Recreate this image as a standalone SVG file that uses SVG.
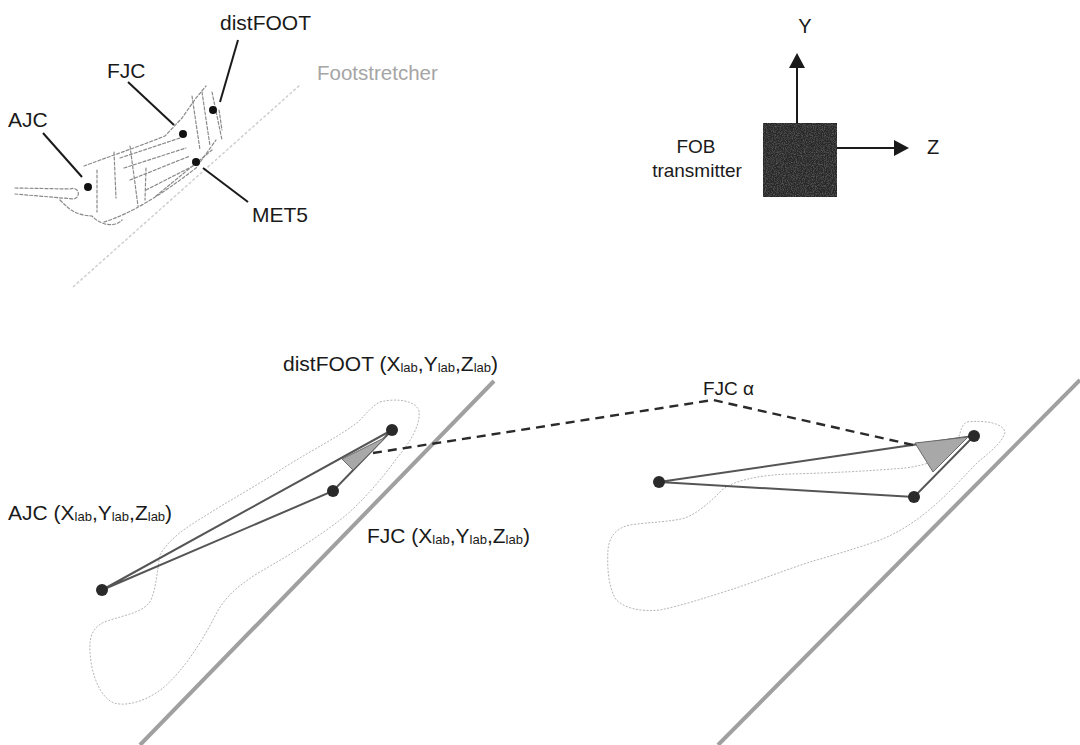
<svg xmlns="http://www.w3.org/2000/svg" width="1080" height="745" viewBox="0 0 1080 745">
  <defs>
    <style>
      .lbl { font-family: "Liberation Sans", Arial, sans-serif; fill: #1a1a1a; }
      .sub { font-size: 13px; }
      .sk { fill: none; stroke: #8a8a8a; stroke-width: 1.2; stroke-dasharray: 3 2; stroke-linecap: round; }
      .outline { fill: none; stroke: #b5b5b5; stroke-width: 1; stroke-dasharray: 2 1.5; }
      .leader { stroke: #1a1a1a; stroke-width: 2; }
      .seg { stroke: #555; stroke-width: 2; fill: none; stroke-linecap: round; }
      .stretcher { stroke: #a0a0a0; stroke-width: 4; }
      .dot { fill: #2a2a2a; }
      .pt { fill: #111; }
      .angle { fill: #a8a8a8; stroke: #6a6a6a; stroke-width: 1; }
      .axis { stroke: #1a1a1a; stroke-width: 2; }
    </style>
    <marker id="head" markerUnits="userSpaceOnUse" markerWidth="15" markerHeight="16" refX="0" refY="8" orient="auto">
      <path d="M0,0 L15,8 L0,16 z" fill="#1a1a1a"/>
    </marker>
    <filter id="grain" x="0" y="0" width="100%" height="100%">
      <feTurbulence type="fractalNoise" baseFrequency="0.9" numOctaves="2" seed="4" result="n"/>
      <feColorMatrix in="n" type="matrix" values="0 0 0 0 0.3  0 0 0 0 0.3  0 0 0 0 0.3  0 0 0 0.7 -0.3" result="g"/>
      <feComposite in="g" in2="SourceGraphic" operator="in" result="gi"/>
      <feMerge><feMergeNode in="SourceGraphic"/><feMergeNode in="gi"/></feMerge>
    </filter>
  </defs>

  <rect width="1080" height="745" fill="#ffffff"/>

  <!-- Sketch of the foot skeleton on the footstretcher -->
  <g id="foot-sketch">
    <line x1="73" y1="287" x2="300" y2="85" stroke="#cfcfcf" stroke-width="1.5" stroke-dasharray="3 2"/>
    <path class="sk" d="M15,188 L70,189 C78,186 82,196 74,199 L15,194"/>
    <path class="sk" d="M60,200 C70,210 75,215 92,216 C100,225 115,228 122,220"/>
    <path class="sk" d="M84,166 C105,158 135,148 165,136 L182,118 L196,98 L206,86"/>
    <path class="sk" d="M97,170 L97,212 M114,152 L116,198 M130,146 L138,206 M146,168 L145,200"/>
    <path class="sk" d="M120,158 L180,138 M124,168 L186,148 M130,180 L190,156 M146,190 L197,164 M156,196 L212,150"/>
    <path class="sk" d="M192,96 L200,150 M202,92 L210,146 M212,92 L222,140 M219,110 L222,130"/>
    <path class="sk" d="M104,222 C130,214 160,196 196,168 L216,140"/>
  </g>

  <!-- Footstretcher label -->
  <text class="lbl" x="317" y="80" font-size="20.5" style="fill:#a5a5a5">Footstretcher</text>

  <!-- Anatomical landmarks with leader lines -->
  <g id="ajc-top">
    <line class="leader" x1="43" y1="133" x2="82" y2="177"/>
    <circle class="pt" cx="88" cy="187" r="4"/>
    <text class="lbl" x="8" y="127" font-size="21">AJC</text>
  </g>
  <g id="fjc-top">
    <line class="leader" x1="128" y1="82" x2="174" y2="125"/>
    <circle class="pt" cx="183" cy="134" r="4"/>
    <text class="lbl" x="107" y="78" font-size="21">FJC</text>
  </g>
  <g id="distfoot-top">
    <line class="leader" x1="238" y1="40" x2="220" y2="102"/>
    <circle class="pt" cx="213" cy="110" r="4"/>
    <text class="lbl" x="220" y="30" font-size="21">distFOOT</text>
  </g>
  <g id="met5-top">
    <line class="leader" x1="203" y1="168" x2="248" y2="202"/>
    <circle class="pt" cx="196" cy="162" r="4"/>
    <text class="lbl" x="252" y="222" font-size="21">MET5</text>
  </g>

  <!-- FOB transmitter with its axes -->
  <g id="fob-transmitter">
    <rect x="763" y="123" width="74" height="74" fill="#2c2c2c" stroke="#222" stroke-width="1" filter="url(#grain)"/>
    <text class="lbl" x="696" y="153" font-size="19" text-anchor="middle">FOB</text>
    <text class="lbl" x="697" y="177" font-size="19" text-anchor="middle">transmitter</text>
  </g>
  <g id="axis-y">
    <line class="axis" x1="797" y1="123" x2="797" y2="68" marker-end="url(#head)"/>
    <text class="lbl" x="805" y="33" font-size="20" text-anchor="middle">Y</text>
  </g>
  <g id="axis-z">
    <line class="axis" x1="837" y1="148" x2="894" y2="148" marker-end="url(#head)"/>
    <text class="lbl" x="933" y="154" font-size="20" text-anchor="middle">Z</text>
  </g>

  <!-- Footstretchers -->
  <g id="footstretchers">
    <line class="stretcher" x1="140" y1="745" x2="494" y2="381"/>
    <line class="stretcher" x1="718" y1="745" x2="1080" y2="380"/>
  </g>

  <!-- Foot outlines -->
  <g id="foot-outlines">
    <path class="outline" d="M380,402 C395,398 416,400 419,411 C421,426 408,445 397,458 C385,475 360,505 340,520 C318,537 290,555 258,573 C240,585 225,595 214,618 C200,645 182,672 163,688 C148,700 128,707 114,703 C99,697 91,672 90,652 C89,636 93,626 107,621 C125,615 145,612 151,600 C157,585 157,570 160,555 C168,540 185,528 205,516 C230,500 258,485 285,467 C312,450 340,436 358,422 C367,413 373,405 380,402 Z"/>
    <path class="outline" d="M967,422 C985,420 1003,423 1005,432 C1003,442 990,452 978,462 C965,475 950,492 935,505 C918,520 900,532 880,540 C855,549 830,556 810,562 C785,570 755,582 730,590 C705,598 680,606 660,610 C640,612 622,608 615,598 C608,585 607,565 608,550 C609,538 615,528 630,525 C650,522 670,522 685,518 C700,512 712,500 722,490 C735,480 760,475 790,474 C830,473 870,471 905,468 C930,465 952,456 958,440 C961,430 962,424 967,422 Z"/>
  </g>

  <!-- Segment connectors -->
  <g id="connectors">
    <polyline class="seg" points="102,590 392,430 333,491 102,590"/>
    <polyline class="seg" points="659,482 974,436 914,497 659,482"/>
    <polyline points="373,453 713,400 913,445" fill="none" stroke="#2a2a2a" stroke-width="2.4" stroke-dasharray="9 6"/>
  </g>

  <!-- Angle markers at distFOOT -->
  <g id="angle-left">
    <polygon class="angle" points="386,437 342,459 353,470"/>
  </g>
  <g id="angle-right">
    <polygon class="angle" points="915,443 968,437 933,472"/>
  </g>

  <!-- Digitised landmarks in laboratory frame -->
  <g id="ajc-lab">
    <circle class="dot" cx="102" cy="590" r="6"/>
    <text class="lbl" x="8" y="520" font-size="21">AJC (X<tspan class="sub" dy="1">lab</tspan><tspan dy="-1">,Y</tspan><tspan class="sub" dy="1">lab</tspan><tspan dy="-1">,Z</tspan><tspan class="sub" dy="1">lab</tspan><tspan dy="-1">)</tspan></text>
  </g>
  <g id="fjc-lab">
    <circle class="dot" cx="333" cy="491" r="6"/>
    <text class="lbl" x="367" y="543" font-size="21">FJC (X<tspan class="sub" dy="1">lab</tspan><tspan dy="-1">,Y</tspan><tspan class="sub" dy="1">lab</tspan><tspan dy="-1">,Z</tspan><tspan class="sub" dy="1">lab</tspan><tspan dy="-1">)</tspan></text>
  </g>
  <g id="distfoot-lab">
    <circle class="dot" cx="392" cy="430" r="6"/>
    <text class="lbl" x="283" y="371" font-size="21">distFOOT (X<tspan class="sub" dy="1">lab</tspan><tspan dy="-1">,Y</tspan><tspan class="sub" dy="1">lab</tspan><tspan dy="-1">,Z</tspan><tspan class="sub" dy="1">lab</tspan><tspan dy="-1">)</tspan></text>
  </g>
  <g id="right-foot-points">
    <circle class="dot" cx="659" cy="482" r="6"/>
    <circle class="dot" cx="914" cy="497" r="6"/>
    <circle class="dot" cx="974" cy="436" r="6"/>
  </g>
  <g id="fjc-alpha">
    <text class="lbl" x="703" y="395" font-size="19">FJC α</text>
  </g>
</svg>
